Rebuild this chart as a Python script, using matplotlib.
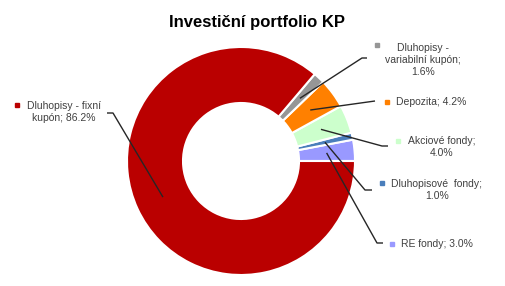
import numpy as np
import matplotlib.pyplot as plt

plt.rcParams['font.family'] = ['Liberation Sans', 'DejaVu Sans']

# Data (order as drawn, counter-clockwise from 3 o'clock)
names = ["RE fondy", "Dluhopisové fondy", "Akciové fondy", "Depozita",
         "Dluhopisy - variabilní kupón", "Dluhopisy - fixní kupón"]
shares = [3.0, 1.0, 4.0, 4.2, 1.6, 86.2]
colors = ["#9999FF", "#4A7EBB", "#CCFFCC", "#FF8000", "#969696", "#BA0000"]

# how each label is wrapped on the chart
label_text = ["RE fondy; 3.0%",
              "Dluhopisové  fondy;\n1.0%",
              "Akciové fondy;\n4.0%",
              "Depozita; 4.2%",
              "Dluhopisy -\nvariabilní kupón;\n1.6%",
              "Dluhopisy - fixní\nkupón; 86.2%"]

W, H = 506, 286
fig = plt.figure(figsize=(W / 100, H / 100), dpi=100)
ax = fig.add_axes([0, 0, 1, 1])
ax.set_xlim(0, W)
ax.set_ylim(0, H)
ax.set_aspect('equal')
ax.axis('off')

cx, cy = 241, H - 161
R, r = 114, 58

wedges, _ = ax.pie(shares, colors=colors, startangle=0, counterclock=True,
                   radius=R, center=(cx, cy),
                   wedgeprops=dict(width=R - r, edgecolor='white', linewidth=1.5))
ax.set_xlim(0, W)
ax.set_ylim(0, H)

# label layout: text centre (x, y from top), marker x/y, leader elbow and end
layout = [
    dict(tx=437, ty=244, mx=392, my=244, elbow=(377, 243), end=(383, 243)),
    dict(tx=437, ty=190, mx=382, my=183, elbow=(365, 190), end=(372, 190)),
    dict(tx=442, ty=147, mx=398, my=141, elbow=(382, 146), end=(388, 146)),
    dict(tx=431, ty=102, mx=387, my=102, elbow=(375, 101), end=(375, 101)),
    dict(tx=423, ty=60, mx=377, my=45, elbow=(362, 58), end=(367, 58)),
    dict(tx=64, ty=112, mx=17, my=105, elbow=(113, 113), end=(107, 113)),
]

mid_r = (R + r) / 2
for w, txt, lay, col in zip(wedges, label_text, layout, colors):
    ang = np.deg2rad((w.theta1 + w.theta2) / 2)
    axp = cx + mid_r * np.cos(ang)
    ayp = cy + mid_r * np.sin(ang)
    ex, ey = lay['elbow']
    nx, ny = lay['end']
    ax.plot([axp, ex, nx], [ayp, H - ey, H - ny], color='#262626', lw=1.0,
            solid_capstyle='butt', zorder=5)
    ax.text(lay['tx'], H - lay['ty'], txt, ha='center', va='center',
            fontsize=7.5, color='#404040', linespacing=1.2)
    ax.plot(lay['mx'], H - lay['my'], marker='s', ms=2.6, color=col,
            mec=col, linestyle='none')

ax.text(257, H - 22, "Investiční portfolio KP", ha='center', va='center',
        fontsize=12, fontweight='bold', color='black')

fig.savefig("out.png", dpi=100)
